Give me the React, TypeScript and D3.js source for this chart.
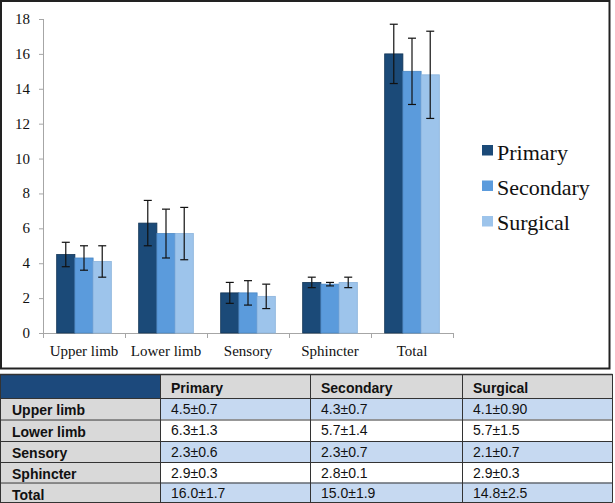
import React from "react";
import * as d3 from "d3";

const categories = ["Upper limb", "Lower limb", "Sensory", "Sphincter", "Total"];
const seriesNames = ["Primary", "Secondary", "Surgical"];
const primaryMean = [4.5, 6.3, 2.3, 2.9, 16.0];
const primarySD = [0.7, 1.3, 0.6, 0.3, 1.7];
const secondaryMean = [4.3, 5.7, 2.3, 2.8, 15.0];
const secondarySD = [0.7, 1.4, 0.7, 0.1, 1.9];
const surgicalMean = [4.1, 5.7, 2.1, 2.9, 14.8];
const surgicalSD = [0.9, 1.5, 0.7, 0.3, 2.5];
const tableCells = [
  ["4.5±0.7", "4.3±0.7", "4.1±0.90"],
  ["6.3±1.3", "5.7±1.4", "5.7±1.5"],
  ["2.3±0.6", "2.3±0.7", "2.1±0.7"],
  ["2.9±0.3", "2.8±0.1", "2.9±0.3"],
  ["16.0±1.7", "15.0±1.9", "14.8±2.5"],
];
const yTicks = [0, 2, 4, 6, 8, 10, 12, 14, 16, 18];

const colors = ["#1b4a78", "#5b9bdc", "#9dc4eb"];
const strokeColors = ["#123556", "#4a87c4", "#8ab3dc"];

export default function App() {
  const means = [primaryMean, secondaryMean, surgicalMean];
  const sds = [primarySD, secondarySD, surgicalSD];
  const y = d3.scaleLinear().domain([0, 18]).range([333, 19]);
  const x0 = d3.scaleBand<string>().domain(categories).range([43, 453]).padding(0);
  const x1 = d3
    .scaleBand<string>()
    .domain(seriesNames)
    .range([0, x0.bandwidth()])
    .paddingInner(0)
    .paddingOuter(0.75);
  const bw = x1.bandwidth();

  const serif = "'Liberation Serif', 'Times New Roman', serif";
  const sans = "'Liberation Sans', Arial, sans-serif";

  const colX = [0, 160, 310, 462, 612];
  const rowY = [374, 398, 419.5, 441, 462, 482.5, 502];

  return (
    <svg
      width={615}
      height={503}
      style={{ position: "absolute", left: 0, top: 0, background: "#fff" }}
    >
      <rect x={1} y={1} width={608.5} height={367.5} fill="#fff" stroke="#222" strokeWidth={2} />
      <line x1={43.5} x2={43.5} y1={y(18)} y2={y(0)} stroke="#a6a6a6" />
      {yTicks.map((t) => (
        <g key={t}>
          <line x1={39} x2={43.5} y1={y(t) + 0.5} y2={y(t) + 0.5} stroke="#a6a6a6" />
          <text x={30} y={y(t) + 5} textAnchor="end" fontFamily={serif} fontSize={15} fill="#111">
            {t}
          </text>
        </g>
      ))}
      <line x1={43} x2={453} y1={y(0) + 0.5} y2={y(0) + 0.5} stroke="#a6a6a6" />
      {categories.map((c) => (
        <line
          key={"t" + c}
          x1={(x0(c) as number) + 0.5}
          x2={(x0(c) as number) + 0.5}
          y1={y(0)}
          y2={y(0) + 5}
          stroke="#a6a6a6"
        />
      ))}
      <line x1={453.5} x2={453.5} y1={y(0)} y2={y(0) + 5} stroke="#a6a6a6" />
      {categories.map((c) => (
        <text
          key={"l" + c}
          x={(x0(c) as number) + x0.bandwidth() / 2}
          y={356}
          textAnchor="middle"
          fontFamily={serif}
          fontSize={15}
          fill="#111"
        >
          {c}
        </text>
      ))}
      {seriesNames.map((s, si) =>
        categories.map((c, ci) => {
          const bx = (x0(c) as number) + (x1(s) as number);
          const v = means[si][ci];
          return (
            <rect
              key={s + c}
              x={bx}
              y={y(v)}
              width={bw}
              height={y(0) - y(v)}
              fill={colors[si]}
              stroke={strokeColors[si]}
              strokeWidth={0.8}
            />
          );
        })
      )}
      {seriesNames.map((s, si) =>
        categories.map((c, ci) => {
          const cx = (x0(c) as number) + (x1(s) as number) + bw / 2;
          const m = means[si][ci];
          const sd = sds[si][ci];
          const top = y(m + sd);
          const bot = y(m - sd);
          return (
            <g key={"e" + s + c} stroke="#111" strokeWidth={1.2}>
              <line x1={cx} x2={cx} y1={top} y2={bot} />
              <line x1={cx - 4} x2={cx + 4} y1={top} y2={top} />
              <line x1={cx - 4} x2={cx + 4} y1={bot} y2={bot} />
            </g>
          );
        })
      )}
      {seriesNames.map((s, i) => (
        <g key={"lg" + s}>
          <rect x={482} y={145 + i * 35.5} width={11} height={10.5} fill={colors[i]} />
          <text x={497} y={160 + i * 35} fontFamily={serif} fontSize={22} fill="#111">
            {s}
          </text>
        </g>
      ))}

      <rect x={colX[0]} y={rowY[0]} width={colX[1] - colX[0]} height={rowY[1] - rowY[0]} fill="#1c497c" />
      {[1, 2, 3].map((ci) => (
        <rect
          key={"h" + ci}
          x={colX[ci]}
          y={rowY[0]}
          width={colX[ci + 1] - colX[ci]}
          height={rowY[1] - rowY[0]}
          fill="#d9d9d9"
        />
      ))}
      {categories.map((c, ri) => (
        <g key={"r" + c}>
          <rect
            x={colX[0]}
            y={rowY[ri + 1]}
            width={colX[1] - colX[0]}
            height={rowY[ri + 2] - rowY[ri + 1]}
            fill="#d9d9d9"
          />
          <rect
            x={colX[1]}
            y={rowY[ri + 1]}
            width={colX[4] - colX[1]}
            height={rowY[ri + 2] - rowY[ri + 1]}
            fill={ri % 2 === 0 ? "#c6d9f1" : "#ffffff"}
          />
          <text
            x={12}
            y={rowY[ri + 1] + 17}
            fontFamily={sans}
            fontWeight="bold"
            fontSize={14}
            fill="#111"
          >
            {c}
          </text>
          {tableCells[ri].map((t, ci) => (
            <text
              key={"c" + ci}
              x={colX[ci + 1] + 11}
              y={rowY[ri + 1] + 15.5}
              fontFamily={sans}
              fontSize={14}
              fill="#111"
            >
              {t}
            </text>
          ))}
        </g>
      ))}
      {seriesNames.map((s, i) => (
        <text
          key={"th" + s}
          x={colX[i + 1] + 11}
          y={rowY[0] + 19}
          fontFamily={sans}
          fontWeight="bold"
          fontSize={14}
          fill="#111"
        >
          {s}
        </text>
      ))}
      {rowY.map((ry, i) => (
        <line
          key={"hl" + i}
          x1={0}
          x2={612.5}
          y1={ry + 0.5}
          y2={ry + 0.5}
          stroke="#333"
          strokeWidth={i === 0 ? 1.5 : 1}
        />
      ))}
      {colX.map((cx, i) => (
        <line key={"vl" + i} x1={cx + 0.5} x2={cx + 0.5} y1={rowY[0]} y2={rowY[6] + 0.5} stroke="#333" strokeWidth={1} />
      ))}
    </svg>
  );
}
